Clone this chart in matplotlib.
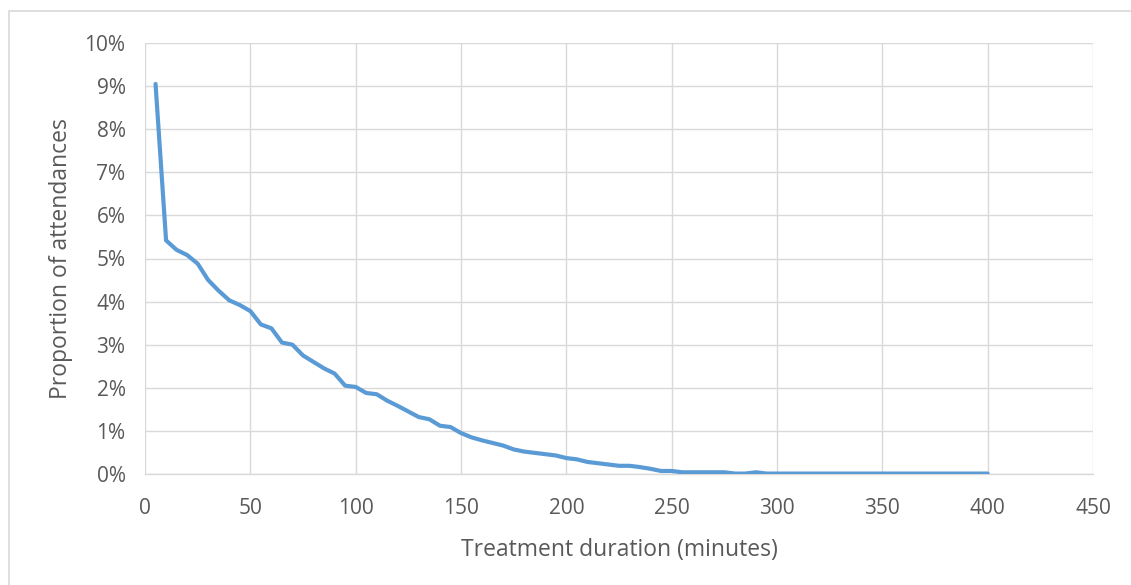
import matplotlib
matplotlib.use('Agg')
from matplotlib import pyplot as plt
from matplotlib.patches import Rectangle
from matplotlib.ticker import FuncFormatter

# treatment duration in minutes, 5-minute bins
minutes = list(range(5, 405, 5))
# proportion of attendances (%)
share = [9.05, 5.42, 5.20, 5.08, 4.88, 4.50, 4.25, 4.03, 3.92, 3.78,
         3.47, 3.38, 3.05, 3.00, 2.75, 2.60, 2.45, 2.33, 2.05, 2.02,
         1.88, 1.85, 1.70, 1.58, 1.45, 1.32, 1.27, 1.12, 1.09, 0.95,
         0.85, 0.78, 0.72, 0.66, 0.57, 0.52, 0.49, 0.46, 0.43, 0.37,
         0.34, 0.28, 0.25, 0.22, 0.19, 0.19, 0.16, 0.12, 0.07, 0.07,
         0.04, 0.04, 0.04, 0.04, 0.04, 0.01, 0.01, 0.04, 0.01, 0.01,
         0.01, 0.01, 0.01, 0.01, 0.01, 0.01, 0.01, 0.01, 0.01, 0.01,
         0.01, 0.01, 0.01, 0.01, 0.01, 0.01, 0.01, 0.01, 0.01, 0.01]

plt.rcParams['font.family'] = ['Open Sans', 'DejaVu Sans']

fig = plt.figure(figsize=(11.31, 5.85), dpi=100)
fig.patches.append(Rectangle((9 / 1131, -0.1), 1.2, (585 - 11) / 585 + 0.1,
                             transform=fig.transFigure, fill=False,
                             edgecolor='#d9d9d9', linewidth=1.2))

ax = fig.add_axes([145 / 1131, (585 - 474) / 585,
                   (1093 - 145) / 1131, (474 - 43) / 585])

ax.plot(minutes, share, color='#5b9bd5', linewidth=3.0,
        solid_capstyle='round', solid_joinstyle='round', zorder=3)

ax.set_xlim(0, 450)
ax.set_ylim(0, 10)
ax.set_xticks(range(0, 451, 50))
ax.set_yticks(range(0, 11, 1))
ax.yaxis.set_major_formatter(FuncFormatter(lambda v, p: '%d%%' % v))

ax.grid(True, color='#d9d9d9', linewidth=1.0)
ax.set_axisbelow(True)
for s in ['top', 'right', 'left']:
    ax.spines[s].set_visible(False)
ax.spines['bottom'].set_color('#d9d9d9')
ax.spines['bottom'].set_linewidth(1.0)

ax.tick_params(axis='both', length=0, labelsize=15, colors='#595959')
ax.tick_params(axis='x', pad=17)
ax.tick_params(axis='y', pad=14)

ax.set_xlabel('Treatment duration (minutes)', fontsize=16.5, color='#595959',
              labelpad=14)
ax.set_ylabel('Proportion of attendances', fontsize=16.5, color='#595959',
              labelpad=8)

plt.savefig('out.png', dpi=100)
plt.close()
